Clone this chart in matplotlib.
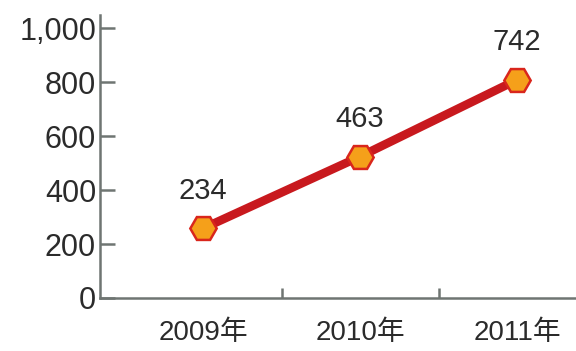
import numpy as np
import matplotlib.pyplot as plt

plt.rcParams['font.family'] = ['Liberation Sans', 'Noto Sans CJK SC']

# data
years = ["2009年", "2010年", "2011年"]
values = [258, 524, 808]          # plotted heights
labels = ["234", "463", "742"]    # printed data labels
yticks = [0, 200, 400, 600, 800, 1000]
ytick_labels = ["0", "200", "400", "600", "800", "1,000"]

fig = plt.figure(figsize=(5.76, 3.51), dpi=100)
ax = fig.add_axes([0.174, 0.151, 0.826, 0.806])

x = np.arange(len(years))
ax.plot(x, values, color="#c8191e", lw=6.2, solid_capstyle="butt", zorder=2)
ax.plot(x, values, ls="none", marker="H", ms=19, mfc="#f5a01a", mec="#d9261c",
        mew=1.8, zorder=3)
for xi, v, lab in zip(x, values, labels):
    ax.annotate(lab, (xi, v), xytext=(0, 27), textcoords="offset points",
                ha="center", va="center", fontsize=21, color="#2b2b2b")

ax.set_xlim(-0.656, 2.376)
ax.set_ylim(0, 1048)
ax.set_yticks(yticks)
ax.set_yticklabels(ytick_labels)
ax.set_xticks(x)
ax.set_xticklabels(years)
ax.set_xticks([0.5, 1.5], minor=True)

for s in ["top", "right"]:
    ax.spines[s].set_visible(False)
for s in ["left", "bottom"]:
    ax.spines[s].set_color("#6f7572")
    ax.spines[s].set_linewidth(1.8)

ax.tick_params(axis="y", direction="in", length=11, width=1.8, color="#6f7572",
               labelsize=22, labelcolor="#2b2b2b", pad=3)
ax.tick_params(axis="x", which="major", length=0, labelsize=20,
               labelcolor="#2b2b2b", pad=16)
ax.tick_params(axis="x", which="minor", direction="in", length=7, width=1.8,
               color="#6f7572")

fig.savefig("out.png", dpi=100)
